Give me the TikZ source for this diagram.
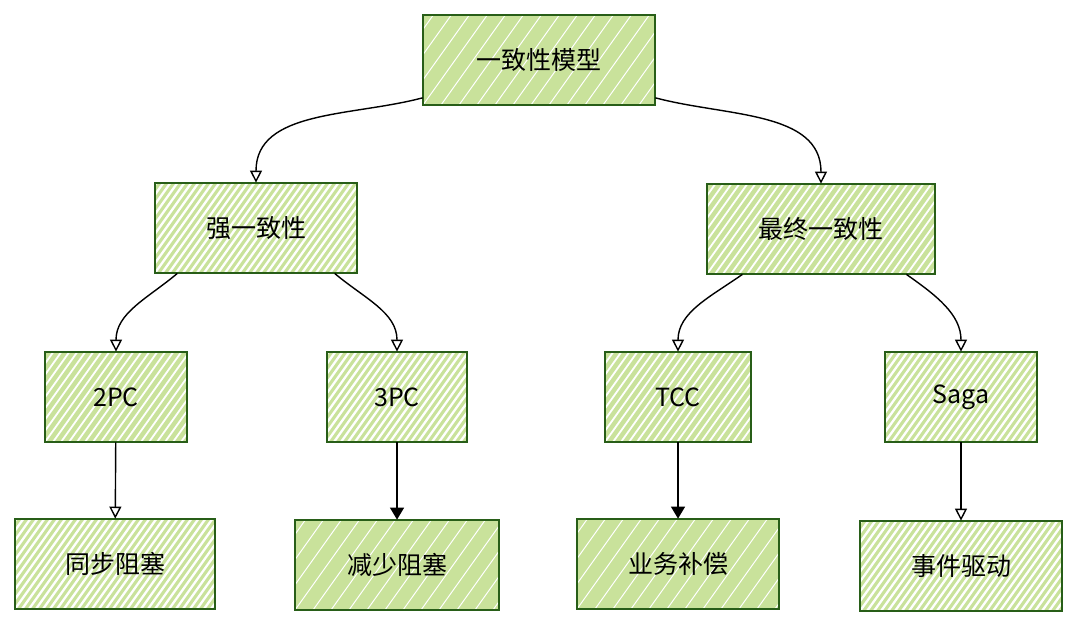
\documentclass[tikz,border=0pt]{standalone}
\usepackage{fontspec}
\newfontfamily\cjk{Noto Sans CJK SC}
\usepackage{tikz}
\usetikzlibrary{positioning,arrows.meta,calc}
\definecolor{darkgreen}{HTML}{285E18}
\definecolor{lightgreen}{HTML}{C9E29B}

\tikzset{
  hatch/.style 2 args={path picture={
      \foreach \k in {-30,...,40}
        \draw[white, line width=#2] ([xshift=\k*#1]path picture bounding box.south west) -- ++(50pt,70pt);
    }},
  box/.style={fill=lightgreen, minimum height=45pt, inner sep=0pt,
    font=\cjk\fontsize{12.5}{15}\selectfont,
    postaction={draw=darkgreen, line width=1.1pt}},
  solidbox/.style={box, hatch={9pt}{0.5pt}},
  midbox/.style={box, hatch={4pt}{0.9pt}},
  lightbox/.style={box, hatch={3.5pt}{1.15pt}},
  link/.style={black, line width=0.7pt, -{Triangle[open, length=6pt, width=6pt]}},
  fulllink/.style={black, line width=0.7pt, -{Triangle[length=6pt, width=7pt]}}
}

\begin{document}
\begin{tikzpicture}[x=0.5pt, y=-0.5pt]
      \useasboundingbox (0,0) rectangle (1080,627);

      \node[solidbox, minimum width=116pt] (model) at (539,60) {一致性模型};

      \node[lightbox, minimum width=101pt] (strong) at (256,228) {强一致性};
      \node[midbox, minimum width=114pt] (final) at (821,229) {最终一致性};

      \node[midbox, minimum width=71pt] (pc2) at (116,397) {2PC};
      \node[lightbox, minimum width=70pt] (pc3) at (397,397) {3PC};
      \node[midbox, minimum width=73pt] (tcc) at (678,397) {TCC};
      \node[lightbox, minimum width=76pt] (saga) at (961,397) {Saga};

      \node[lightbox, minimum width=100pt] (sync) at (115,564) {同步阻塞};
      \node[solidbox, minimum width=102pt] (reduce) at (397,565) {减少阻塞};
      \node[solidbox, minimum width=101pt] (comp) at (678,564) {业务补偿};
      \node[lightbox, minimum width=101pt] (event) at (961,566) {事件驱动};

      \draw[link] (model.198) to[out=195, in=90] (strong.north);
      \draw[link] (model.-18) to[out=-15, in=90] (final.north);
      \draw[link] (strong.210) to[out=220, in=90] (pc2.north);
      \draw[link] (strong.-30) to[out=-40, in=90] (pc3.north);
      \draw[link] (final.210) to[out=215, in=90] (tcc.north);
      \draw[link] (final.-28) to[out=-35, in=90] (saga.north);

      \draw[link] (pc2) -- (sync);
      \draw[fulllink] (pc3) -- (reduce);
      \draw[fulllink] (tcc) -- (comp);
      \draw[link] (saga) -- (event);
    \end{tikzpicture}
\end{document}
